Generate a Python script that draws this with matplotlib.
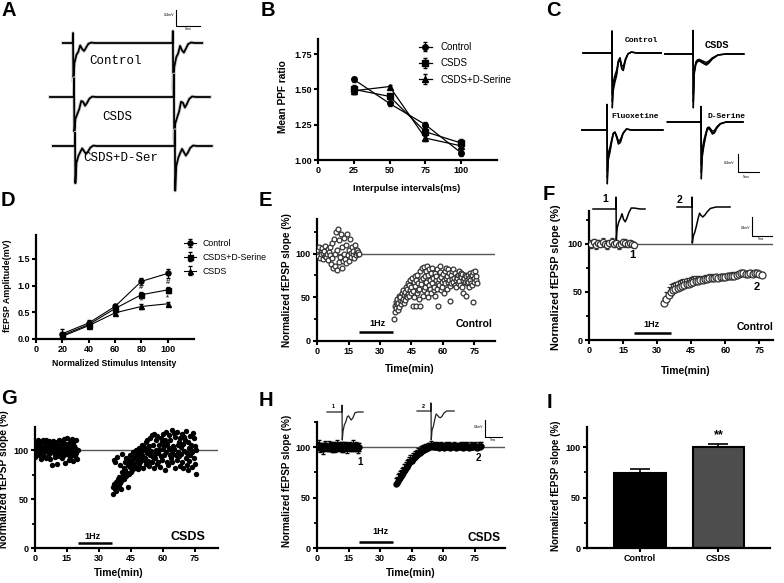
import numpy as np
import matplotlib
matplotlib.use("Agg")
import matplotlib.pyplot as plt
from matplotlib.ticker import MultipleLocator

# ======================= DATA =======================
# Panel B : paired-pulse facilitation
B_interval = [25, 50, 75, 100]
B_control = [1.57, 1.40, 1.25, 1.05]
B_control_err = [0.02, 0.02, 0.02, 0.02]
B_csds = [1.50, 1.45, 1.20, 1.12]
B_csds_err = [0.03, 0.02, 0.03, 0.03]
B_dser = [1.49, 1.52, 1.155, 1.10]
B_dser_err = [0.02, 0.01, 0.02, 0.02]
B_xticks = [0, 25, 50, 75, 100]
B_yticks = [1.00, 1.25, 1.50, 1.75]
B_ylabels = ["1.00", "1.25", "1.50", "1.75"]

# Panel D : input-output curve
D_intensity = [20, 40, 60, 80, 100]
D_control = [0.10, 0.30, 0.61, 1.08, 1.23]
D_control_err = [0.09, 0.05, 0.04, 0.07, 0.08]
D_dser = [0.07, 0.27, 0.57, 0.83, 0.92]
D_dser_err = [0.05, 0.04, 0.04, 0.05, 0.06]
D_csds = [0.05, 0.25, 0.49, 0.61, 0.66]
D_csds_err = [0.04, 0.03, 0.03, 0.05, 0.04]
D_xticks = [0, 20, 40, 60, 80, 100]
D_yticks = [0.0, 0.5, 1.0, 1.5]
D_ylabels = ["0.0", "0.5", "1.0", "1.5"]
D_sig = ["#", "*", "#", "*"]
D_sig_x = [80, 80, 100, 100]
D_sig_y = [0.96, 0.71, 1.05, 0.78]

# Panel E : Control LTD, single slices (time in min)
E_base_dt = 1 / 3
E_base = [100, 104, 97, 108, 95, 102, 99, 106, 94, 101,
          103, 97, 109, 96, 100, 105, 93, 102, 98, 107,
          88, 112, 95, 84, 117, 99, 86, 125, 81, 104,
          128, 90, 115, 96, 122, 83, 108, 92, 100, 118,
          94, 110, 89, 122, 98, 104, 92, 117, 101, 96,
          108, 99, 103, 95, 110, 101, 98, 104, 100, 102, 99]
E_post_start = 36.75
E_post_dt = 0.25
E_post = [25, 40, 33, 45, 38, 48, 42, 35, 44, 52, 39, 47, 50, 42, 55, 46,
          48, 58, 44, 53, 56, 47, 62, 51, 60, 50, 54, 66, 52, 64, 58, 70,
          62, 55, 72, 40, 57, 68, 50, 74, 63, 40, 70, 55, 76, 58, 66, 48,
          60, 80, 40, 70, 65, 83, 52, 72, 85, 58, 74, 62, 68, 80, 55, 86,
          50, 75, 64, 82, 70, 60, 78, 55, 84, 66, 72, 58, 62, 78, 52, 70,
          74, 60, 82, 66, 40, 71, 64, 79, 86, 58, 73, 68, 62, 77, 70, 55,
          80, 66, 72, 84, 60, 74, 68, 82, 70, 78, 63, 46, 75, 66, 80, 71,
          68, 82, 72, 64, 78, 70, 62, 74, 72, 66, 76, 80, 69, 75, 64, 78,
          73, 62, 77, 70, 55, 72, 68, 76, 74, 52, 70, 66, 68, 76, 72, 62,
          78, 70, 66, 74, 64, 75, 79, 45, 72, 68, 80, 70, 74, 66]

# Panel F : Control LTD mean +/- SEM
F_base_dt = 1.0
F_base = [101, 100, 102, 99, 101, 100, 102, 100, 99, 101, 102,
          100, 101, 99, 100, 102, 101, 100, 101, 100, 99]
F_base_err = [3, 4, 3, 4, 3, 3, 4, 3, 4, 3, 4, 3, 3, 4, 3, 3, 4, 3, 3, 3, 3]
F_post_start = 33
F_post_dt = 1.0
F_post = [38, 43, 47, 50, 52, 53, 54, 55, 56, 57, 58, 58, 59, 60, 61, 61,
          62, 62, 63, 63, 64, 64, 64, 65, 64, 65, 65, 65, 66, 66, 67, 67,
          68, 69, 70, 70, 69, 69, 70, 69, 70, 70, 69, 68]
F_post_err = [6, 7, 8, 8, 7, 7, 7, 7, 7, 6, 6, 6, 6, 6, 6, 5, 5, 5, 5, 5, 5, 5,
              4, 4, 4, 4, 4, 4, 4, 4, 4, 4, 3, 3, 3, 3, 3, 3, 3, 3, 3, 3, 3, 3]

# Panel G : CSDS, single slices
G_base_dt = 0.25
G_base = [93, 105, 100, 108, 97, 110, 102, 95, 106, 99, 104, 91,
          108, 101, 96, 110, 94, 103, 107, 99, 110, 92, 105, 101,
          98, 107, 96, 109, 103, 91, 106, 100, 85, 104, 109, 97,
          102, 93, 108, 99, 106, 96, 86, 104, 100, 110, 94, 105,
          97, 109, 101, 92, 107, 98, 111, 95, 103, 87, 106, 100,
          112, 96, 104, 90, 99, 108, 93, 105, 101, 111, 96, 89,
          107, 99, 104, 94, 102, 110, 97, 91, 100]
G_post_start = 36.5
G_post_dt = 0.25
G_post = [55, 62, 90, 65, 60, 88, 58, 67, 64, 93, 70, 62, 72, 66, 85, 60,
          68, 78, 96, 71, 75, 82, 70, 88, 80, 73, 92, 77, 62, 85, 76, 90,
          83, 95, 78, 88, 90, 80, 98, 86, 85, 94, 82, 100, 92, 88, 97, 81,
          96, 84, 102, 90, 88, 99, 93, 105, 95, 82, 103, 90, 100, 92, 108, 86,
          97, 110, 89, 101, 84, 104, 95, 112, 99, 88, 115, 93, 105, 82, 116, 96,
          92, 110, 100, 86, 114, 97, 88, 105, 100, 83, 112, 94, 108, 90, 101, 116,
          95, 104, 80, 110, 98, 118, 88, 106, 85, 102, 115, 95, 110, 92, 100, 120,
          88, 104, 96, 117, 101, 82, 113, 95, 118, 90, 105, 98, 94, 108, 84, 112,
          103, 96, 116, 88, 82, 106, 99, 113, 110, 92, 119, 85, 97, 80, 108, 102,
          89, 114, 95, 100, 105, 83, 98, 117, 92, 112, 86, 104, 76, 100]

# Panel H : CSDS mean +/- SEM
H_base_dt = 0.5
H_base = [101, 100, 102, 99, 101, 100, 98, 101, 102, 100,
          99, 101, 100, 102, 99, 100, 101, 98, 100, 102,
          101, 99, 100, 101, 100, 98, 101, 100, 102, 99,
          100, 101, 99, 100, 102, 100, 99, 101, 100, 99, 100]
H_base_err = [4, 3, 5, 4, 3, 4, 5, 3, 4, 4, 3, 5, 4, 3, 4, 5, 4, 3, 4, 5,
              4, 3, 4, 4, 5, 3, 4, 4, 3, 5, 4, 4, 3, 4, 5, 4, 3, 4, 4, 5, 4]
H_post_start = 37.5
H_post_dt = 0.5
H_post = [63, 64, 66, 68, 69, 71, 72, 74, 76, 77,
          79, 80, 82, 84, 85, 86, 88, 89, 90, 91,
          92, 93, 94, 94, 95, 96, 97, 97, 98, 98,
          99, 99, 100, 100, 101, 100, 101, 100, 100, 101,
          100, 99, 100, 101, 100, 100, 99, 100, 101, 100,
          100, 101, 99, 100, 100, 101, 100, 99, 100, 101,
          100, 100, 101, 100, 99, 101, 100, 100, 101, 100,
          99, 100, 101, 100, 100, 101, 100, 99, 100, 101,
          100, 101]
H_post_err = [6, 6, 7, 6, 7, 6, 7, 6, 7, 6, 6, 7, 6, 6, 7, 6, 6, 5, 6, 5,
              5, 6, 5, 5, 6, 5, 5, 4, 5, 4, 4, 5, 4, 4, 5, 4, 4, 3, 4, 4,
              4, 3, 4, 4, 3, 4, 4, 3, 4, 3, 4, 4, 3, 4, 3, 4, 4, 3, 4, 3,
              4, 3, 4, 4, 3, 4, 3, 4, 4, 3, 4, 3, 4, 3, 4, 4, 3, 4, 3, 4,
              3, 4]

LTD_xticks = [0, 15, 30, 45, 60, 75]
LTD_yticks = [0, 50, 100]
HZ_start, HZ_end = 20, 36

# Panel I : LTD magnitude
I_groups = ["Control", "CSDS"]
I_vals = [74, 100]
I_err = [4, 3]
I_yticks = [0, 50, 100]

# fEPSP waveforms : time (ms) after stimulus and voltage (mV)
TRACE_T = [-0.3, -0.05, 0.0, 0.08, 0.3, 0.7, 1.1, 1.5, 1.9, 2.3, 2.7, 3.2, 3.8, 4.6, 6.0, 8.0]
A_control_v = [0, 0, 0.25, -0.97, -0.50, -0.30, -0.22, -0.06, -0.15, -0.20, -0.12, -0.02, 0.01, 0, 0, 0]
A_csds_v = [0, 0, 0.47, -0.88, -0.55, -0.42, -0.30, -0.10, -0.12, -0.22, -0.15, -0.04, 0.01, 0, 0, 0]
A_dser_v = [0, 0, 0.33, -0.93, -0.42, -0.25, -0.15, -0.06, -0.13, -0.20, -0.14, -0.04, 0.01, 0, 0, 0]
A_pulse2_gain = [1.2, 1.2, 1.2]
A_interval_ms = 20.8
C_control_v = [0, 0, 0.44, -1.09, -0.75, -0.58, -0.45, -0.20, -0.12, -0.32, -0.35, -0.15, -0.02, 0.02, 0, 0]
C_csds_v = [0, 0, 0.47, -1.07, -0.40, -0.20, -0.15, -0.14, -0.16, -0.18, -0.20, -0.22, -0.18, -0.10, -0.02, 0]
C_fluox_v = [0, 0, 0.51, -1.07, -0.60, -0.45, -0.25, -0.08, -0.05, -0.15, -0.28, -0.25, -0.08, 0.02, 0, 0]
C_dser_v = [0, 0, 0.31, -1.13, -0.70, -0.47, -0.30, -0.15, -0.13, -0.18, -0.24, -0.22, -0.12, -0.04, 0, 0]
C_sweep_gain = [0.85, 1.0, 1.12]
F_trace1_v = [0, 0, 0.25, -0.65, -0.40, -0.27, -0.20, -0.10, -0.22, -0.27, -0.20, -0.08, 0.02, 0.02, 0, 0]
F_trace2_v = [0, 0, 0.21, -0.76, -0.62, -0.53, -0.40, -0.25, -0.13, -0.18, -0.21, -0.17, -0.10, -0.03, 0, 0]
H_trace1_v = [0, 0, 0.16, -0.66, -0.45, -0.30, -0.24, -0.12, -0.09, -0.14, -0.19, -0.14, -0.02, 0, 0, 0]
H_trace2_v = [0, 0, 0.19, -0.68, -0.45, -0.36, -0.20, -0.07, -0.10, -0.14, -0.16, -0.13, -0.05, 0, 0, 0]
SCALE_MV, SCALE_MS = 0.4, 5

# ======================= FIGURE =======================
W, H = 784, 583
plt.rcParams["font.family"] = ["Liberation Sans", "DejaVu Sans"]
plt.rcParams["font.weight"] = "bold"
plt.rcParams["axes.labelweight"] = "bold"
fig = plt.figure(figsize=(W / 100, H / 100), dpi=100)
fig.patch.set_facecolor("white")


def box(l, r, b, t):
    return fig.add_axes([l / W, 1 - b / H, (r - l) / W, (b - t) / H])


def ftext(x, y, s, **kw):
    return fig.text(x / W, 1 - y / H, s, **kw)


def style(ax, xlim, ylim, xticks, yticks, ylabels=None, minor=None, fs=6.5):
    for s in ["top", "right"]:
        ax.spines[s].set_visible(False)
    for s in ["left", "bottom"]:
        ax.spines[s].set_linewidth(1.6)
    ax.set_xlim(xlim)
    ax.set_ylim(ylim)
    ax.set_xticks(xticks)
    ax.set_yticks(yticks)
    if ylabels is not None:
        ax.set_yticklabels(ylabels)
    ax.tick_params(direction="out", length=3, width=1.5, labelsize=fs, pad=1.5)
    if minor:
        ax.yaxis.set_minor_locator(MultipleLocator(minor))
        ax.tick_params(axis="y", which="minor", direction="out", length=2.2, width=1.3)
    ax.patch.set_alpha(0)


# ---------- Panel B ----------
axB = box(318, 497, 160, 38.5)
style(axB, (0, 125), (1.0, 1.86), B_xticks, B_yticks, B_ylabels)
for vals, err, mk, lab in [(B_control, B_control_err, "o", "Control"),
                           (B_csds, B_csds_err, "s", "CSDS"),
                           (B_dser, B_dser_err, "^", "CSDS+D-Serine")]:
    axB.errorbar(B_interval, vals, yerr=err, color="black", marker=mk, ms=4,
                 lw=0.9, elinewidth=0.8, capsize=1.5, label=lab, clip_on=False)
axB.legend(loc="upper left", bbox_to_anchor=(419 / W, 1 - 42 / H), bbox_transform=fig.transFigure,
           frameon=False, prop={"weight": "normal", "size": 7}, handlelength=1.3,
           handletextpad=0.9, labelspacing=0.65, borderpad=0, borderaxespad=0)
ftext(283, 97, "Mean PPF ratio", rotation=90, ha="center", va="center", fontsize=7.3)
ftext(407, 188, "Interpulse intervals(ms)", ha="center", va="center", fontsize=6.8)

# ---------- Panel D ----------
axD = box(36, 194, 339, 235)
style(axD, (0, 120), (0, 1.95), D_xticks, D_yticks, D_ylabels)
for vals, err, mk, lab in [(D_control, D_control_err, "o", "Control"),
                           (D_dser, D_dser_err, "s", "CSDS+D-Serine"),
                           (D_csds, D_csds_err, "^", "CSDS")]:
    axD.errorbar(D_intensity, vals, yerr=err, color="black", marker=mk, ms=3.6,
                 lw=0.8, elinewidth=0.7, capsize=1.3, label=lab, clip_on=False)
for s, x, y in zip(D_sig, D_sig_x, D_sig_y):
    axD.text(x, y, s, ha="center", va="center", fontsize=5.5, color="#333333")
axD.legend(loc="upper left", bbox_to_anchor=(184 / W, 1 - 239 / H), bbox_transform=fig.transFigure,
           frameon=False, prop={"weight": "normal", "size": 6.3}, handlelength=1.4,
           handletextpad=0.7, labelspacing=0.55, borderpad=0, borderaxespad=0)
ftext(8, 286, "fEPSP Amplitude(mV)", rotation=90, ha="center", va="center", fontsize=6.4)
ftext(114, 363, "Normalized Stimulus Intensity", ha="center", va="center", fontsize=6.2)


def ltd_common(ax, xmax, ymax, hz_y, hz_txt_x, hz_txt_y, grp, gx, gy, gfs, line_col="#555555"):
    style(ax, (0, xmax), (0, ymax), LTD_xticks, LTD_yticks, minor=25)
    ax.axhline(100, color=line_col, lw=1.0, zorder=1)
    ax.plot([HZ_start, HZ_end], [hz_y, hz_y], color="black", lw=1.8, solid_capstyle="butt")
    ax.text(hz_txt_x, hz_txt_y, "1Hz", ha="center", va="center", fontsize=6.5)
    ax.text(gx, gy, grp, ha="center", va="center", fontsize=gfs)


def times(start, dt, vals):
    return start + dt * np.arange(len(vals))


# ---------- Panel E ----------
axE = box(317, 495.5, 341, 218.6)
ltd_common(axE, 85, 140, 10, 29, 19.5, "Control", 74.8, 19.5, 7.5)
axE.scatter(times(0, E_base_dt, E_base), E_base, s=12, facecolors="white",
            edgecolors="#333333", linewidths=0.9, zorder=3)
axE.scatter(times(E_post_start, E_post_dt, E_post), E_post, s=12, facecolors="white",
            edgecolors="#333333", linewidths=0.9, zorder=3)
ftext(287, 280, "Normalized fEPSP slope (%)", rotation=90, ha="center", va="center", fontsize=7.2)
ftext(410, 369, "Time(min)", ha="center", va="center", fontsize=7.5)

# ---------- Panel F ----------
axF = box(589, 773, 340, 211)
ltd_common(axF, 81, 134, 7.6, 27.7, 15.6, "Control", 73, 13.5, 7.5)
tb = times(0, F_base_dt, F_base)
axF.errorbar(tb, F_base, yerr=F_base_err, fmt="o", ms=4.5, mfc="white", mec="#333333",
             mew=0.9, ecolor="#333333", elinewidth=0.8, capsize=1.5, zorder=3)
tp = times(F_post_start, F_post_dt, F_post)
axF.errorbar(tp, F_post, yerr=[np.zeros(len(F_post_err)), F_post_err], fmt="o", ms=5,
             mfc="white", mec="#333333", mew=0.9, ecolor="#333333", elinewidth=0.8,
             capsize=1.5, zorder=3)
axF.text(19, 88.5, "1", ha="center", va="center", fontsize=8)
axF.text(74, 55, "2", ha="center", va="center", fontsize=8)
ftext(556, 277, "Normalized fEPSP slope (%)", rotation=90, ha="center", va="center", fontsize=7.8)
ftext(686, 371, "Time(min)", ha="center", va="center", fontsize=7.5)

# ---------- Panel G ----------
axG = box(35, 218, 548, 426.5)
ltd_common(axG, 86, 124, 5.4, 26.8, 11.5, "CSDS", 72, 11.5, 9)
axG.scatter(times(0, G_base_dt, G_base), G_base, s=15, color="black", lw=0, zorder=3)
axG.scatter(times(G_post_start, G_post_dt, G_post), G_post, s=15, color="black", lw=0, zorder=3)
ftext(4, 479, "Normalized fEPSP slope (%)", rotation=90, ha="center", va="center", fontsize=7.4)
ftext(119, 573, "Time(min)", ha="center", va="center", fontsize=7.5)

# ---------- Panel H ----------
axH = box(317, 505, 548, 422)
ltd_common(axH, 89.5, 125, 6.2, 30, 16, "CSDS", 79.5, 10, 8.6)
tb = times(0, H_base_dt, H_base)
axH.errorbar(tb, H_base, yerr=H_base_err, fmt="o", ms=3.6, color="black",
             ecolor="black", elinewidth=0.7, capsize=1.3, zorder=3)
tp = times(H_post_start, H_post_dt, H_post)
axH.errorbar(tp, H_post, yerr=[np.zeros(len(H_post_err)), H_post_err], fmt="o", ms=3.6,
             color="black", ecolor="black", elinewidth=0.7, capsize=1.3, zorder=3)
axH.text(20.5, 85, "1", ha="center", va="center", fontsize=7)
axH.text(76.7, 89, "2", ha="center", va="center", fontsize=7)
ftext(287, 481, "Normalized fEPSP slope (%)", rotation=90, ha="center", va="center", fontsize=7.1)
ftext(411, 573, "Time(min)", ha="center", va="center", fontsize=7.5)

# ---------- Panel I ----------
axI = box(587, 770, 548, 427)
style(axI, (-0.675, 1.656), (0, 120), [0, 1], I_yticks, minor=25)
axI.bar([0, 1], I_vals, width=0.66, color=["black", "#4d4d4d"], edgecolor="black", lw=1.5, zorder=2)
axI.errorbar([0, 1], I_vals, yerr=[[0, 0], I_err], fmt="none", ecolor="black",
             elinewidth=1.2, capsize=7, capthick=1.2, zorder=3)
axI.set_xticklabels(I_groups)
axI.text(1, 112, "**", ha="center", va="center", fontsize=9)
ftext(556, 486, "Normalized fEPSP slope (%)", rotation=90, ha="center", va="center", fontsize=7)

# ---------- Overlay for traces ----------
ov = fig.add_axes([0, 0, 1, 1])
ov.set_xlim(0, W)
ov.set_ylim(H, 0)
ov.axis("off")
ov.patch.set_alpha(0)


def draw_trace(stim_x, base_y, ppms, ppmv, vals, t0, t1, stims=(0.0,), gains=(1.0,), **kw):
    ts, vs = [t0], [0.0]
    for s, g in zip(stims, gains):
        for t, v in zip(TRACE_T, vals):
            if t0 < s + t < t1:
                ts.append(s + t)
                vs.append(g * v)
    ts.append(t1)
    vs.append(0.0)
    x = stim_x + np.array(ts) * ppms
    y = base_y - np.array(vs) * ppmv
    ov.plot(x, y, solid_joinstyle="round", **kw)


def scale_bar(cx, cy, ppms, ppmv, lab_mv, lab_ms, fs, lw=0.8):
    ov.plot([cx, cx, cx + SCALE_MS * ppms], [cy - SCALE_MV * ppmv, cy, cy], color="black", lw=lw)
    ov.text(lab_mv[0], lab_mv[1], "0.4mV", ha="right", va="center", fontsize=fs, fontweight="normal")
    ov.text(lab_ms[0], lab_ms[1], "5ms", ha="center", va="center", fontsize=fs, fontweight="normal")


# Panel A
mono = ["Liberation Mono", "DejaVu Sans Mono"]
for (sx, by, v, g, t0, t1) in [(73, 43, A_control_v, A_pulse2_gain[0], -2.1, 26.9),
                               (74, 97, A_csds_v, A_pulse2_gain[1], -5.0, 28.3),
                               (75, 146, A_dser_v, A_pulse2_gain[2], -4.6, 28.5)]:
    draw_trace(sx, by, 4.8, 40, v, t0, t1, stims=(0, A_interval_ms), gains=(1, g),
               color="#d0d0d0", lw=2.6)
    draw_trace(sx, by, 4.8, 40, v, t0, t1, stims=(0, A_interval_ms), gains=(1, g),
               color="black", lw=1.3)
ov.text(116, 61, "Control", ha="center", va="center", fontsize=9, family=mono, fontweight="normal")
ov.text(117, 117, "CSDS", ha="center", va="center", fontsize=9, family=mono, fontweight="normal")
ov.text(121, 158, "CSDS+D-Ser", ha="center", va="center", fontsize=9, family=mono, fontweight="normal")
scale_bar(176, 26, 4.8, 40, (174, 15), (188, 29), 2.6)

# Panel C
for (sx, by, v, t0, t1) in [(612, 53, C_control_v, -6.9, 11.7),
                            (693, 54, C_csds_v, -6.7, 12.1),
                            (607, 130, C_fluox_v, -6.0, 13.3),
                            (701, 122, C_dser_v, -8.0, 10.0)]:
    for g in C_sweep_gain:
        draw_trace(sx, by, 4.2, 45, v, t0, t1, stims=(0,), gains=(g,), color="black", lw=1.0)
ov.text(641, 40, "Control", ha="center", va="center", fontsize=5.8, family=mono)
ov.text(717, 45, "CSDS", ha="center", va="center", fontsize=7.4, family=mono)
ov.text(635, 117, "Fluoxetine", ha="center", va="center", fontsize=5.8, family=mono)
ov.text(727, 116, "D-Serine", ha="center", va="center", fontsize=5.8, family=mono)
scale_bar(738, 172, 4.2, 45, (734, 163), (746, 177), 2.6)

# Panel F insets
draw_trace(616, 209, 4.0, 47.5, F_trace1_v, -5.75, 7.25, color="black", lw=1.1)
draw_trace(692, 207, 4.0, 47.5, F_trace2_v, -3.75, 9.5, color="black", lw=1.1)
ov.text(605, 199, "1", ha="center", va="center", fontsize=7.5)
ov.text(680, 200, "2", ha="center", va="center", fontsize=7.5)
scale_bar(752, 236, 4.0, 47.5, (750, 228), (761, 239), 2.3)

# Panel H insets
draw_trace(342, 412, 3.4, 42.5, H_trace1_v, -4.4, 6.2, color="#222222", lw=0.9)
draw_trace(431, 411, 3.4, 42.5, H_trace2_v, -4.1, 6.8, color="#222222", lw=0.9)
ov.text(333, 407, "1", ha="center", va="center", fontsize=4)
ov.text(423, 407, "2", ha="center", va="center", fontsize=4)
scale_bar(485, 437, 3.4, 42.5, (483, 427), (493, 440), 2.3)

# Panel letters
for s, x, y in [("A", 1, 11), ("B", 261, 10), ("C", 546, 10), ("D", 1, 201), ("E", 259, 201),
                ("F", 543, 195), ("G", 1, 399), ("H", 259, 400), ("I", 547, 403)]:
    ftext(x, y, s, ha="left", va="center", fontsize=14.5, fontweight="bold")

fig.savefig("out.png", dpi=100, facecolor="white")
